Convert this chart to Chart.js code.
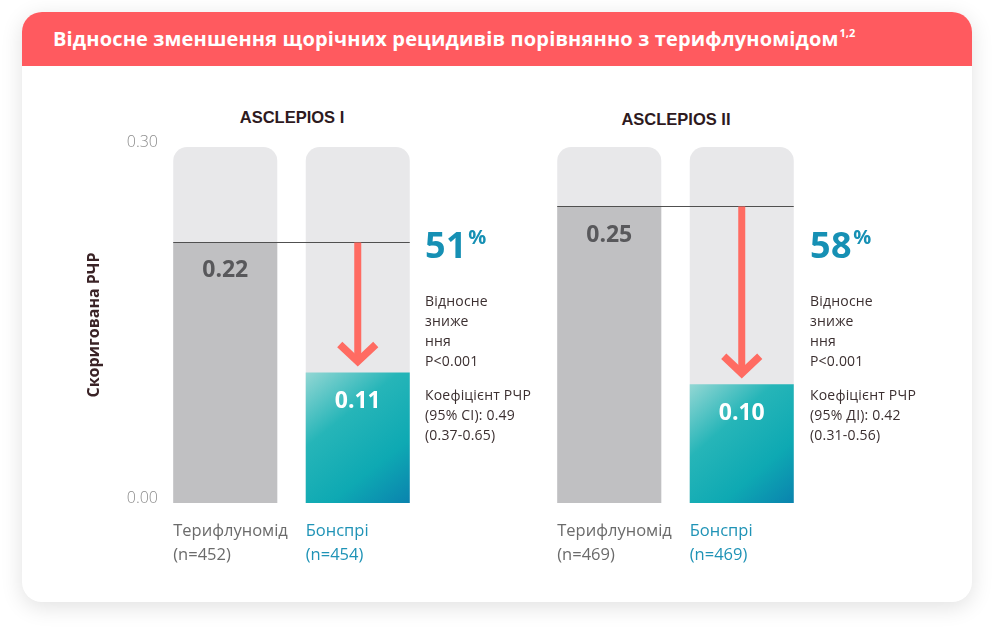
<!DOCTYPE html>
<html>
<head>
<meta charset="utf-8">
<script src="https://cdn.jsdelivr.net/npm/chart.js@4.4.1/dist/chart.umd.min.js"></script>
<style>
  html, body { margin:0; padding:0; background:#ffffff; width:994px; height:635px; overflow:hidden; font-family:'Open Sans', 'Noto Sans', sans-serif; }
  #card { position:absolute; left:22px; top:12px; width:950px; height:590px; border-radius:20px; background:#fff; box-shadow:0 5px 22px rgba(0,0,0,0.12); overflow:hidden; }
  #hdr { position:absolute; left:0; top:0; width:950px; height:54px; background:#ff5a5f; }
  #hdr h1 { position:absolute; left:31px; top:0; margin:0; line-height:54px; font-size:20px; font-weight:700; color:#fff; letter-spacing:0.15px; white-space:nowrap; }
  #hdr h1 sup { font-size:11px; vertical-align:top; position:relative; top:-6px; letter-spacing:0; margin-left:1px; }
  .grp { position:absolute; width:200px; text-align:center; font-family:'Liberation Sans', Arial, sans-serif; font-size:16.5px; font-weight:700; color:#2e1a1e; line-height:20px; }
  .box { position:absolute; }
  .pct { position:absolute; font-size:36px; font-weight:700; color:#1690b4; line-height:40px; letter-spacing:0.5px; white-space:nowrap; }
  .pct sup { font-size:20px; vertical-align:top; position:relative; top:-8px; margin-left:1px; }
  .note { position:absolute; font-size:14px; color:#3b2f30; line-height:20px; white-space:nowrap; letter-spacing:0.2px; }
  .note p { margin:0; }
  .note p.gap { margin-top:14px; }
</style>
</head>
<body>
<div id="card">
  <div id="hdr"><h1 id="title"></h1></div>
</div>
<div class="grp" id="g1" style="left:192px; top:107px;"></div>
<div class="grp" id="g2" style="left:576px; top:109px;"></div>

<div class="box" style="left:82px; top:127px; width:362px; height:446px;"><canvas id="c1"></canvas></div>
<div class="box" style="left:523px; top:127px; width:305px; height:446px;"><canvas id="c2"></canvas></div>

<div class="pct" id="p1" style="left:425px; top:225px;"></div>
<div class="pct" id="p2" style="left:810px; top:225px;"></div>
<div class="note" id="n1" style="left:425px; top:291px;"></div>
<div class="note" id="n2" style="left:810px; top:291px;"></div>

<script>
// ---- data ----
const chartTitle = 'Відносне зменшення щорічних рецидивів порівнянно з терифлуномідом';
const titleRefs = '1,2';
const groupTitles = ['ASCLEPIOS I', 'ASCLEPIOS II'];
const categories1 = [['Терифлуномід', '(n=452)'], ['Бонспрі', '(n=454)']];
const categories2 = [['Терифлуномід', '(n=469)'], ['Бонспрі', '(n=469)']];
const rates1 = [0.22, 0.11];
const rates2 = [0.25, 0.10];
const scaleMax = 0.30;
const yTicks = [0.00, 0.30];
const yAxisTitle = 'Скоригована РЧР';
const reductions = ['51', '58'];
const notes1 = ['Відносне', 'зниже', 'ння', 'P<0.001', 'Коефіцієнт РЧР', '(95% CI): 0.49', '(0.37-0.65)'];
const notes2 = ['Відносне', 'зниже', 'ння', 'P<0.001', 'Коефіцієнт РЧР', '(95% ДІ): 0.42', '(0.31-0.56)'];

// ---- text ----
document.getElementById('title').innerHTML = chartTitle + '<sup>' + titleRefs + '</sup>';
document.getElementById('g1').textContent = groupTitles[0];
document.getElementById('g2').textContent = groupTitles[1];
document.getElementById('p1').innerHTML = reductions[0] + '<sup>%</sup>';
document.getElementById('p2').innerHTML = reductions[1] + '<sup>%</sup>';
function fillNotes(id, arr) {
  document.getElementById(id).innerHTML = arr.map((t, i) => '<p' + (i === 4 ? ' class="gap"' : '') + '>' + t.replace('<', '&lt;') + '</p>').join('');
}
fillNotes('n1', notes1);
fillNotes('n2', notes2);

// ---- styling helpers ----
const FONT = "'Open Sans', 'Noto Sans', sans-serif";
const BAR_PCT = 0.785;

function tealGradient(ctx) {
  const chart = ctx.chart;
  const area = chart.chartArea;
  if (!area) return '#14aeb4';
  const xs = chart.scales.x, ys = chart.scales.y;
  const x = xs.getPixelForValue(ctx.dataIndex);
  const half = (xs.width / xs.ticks.length) * BAR_PCT / 2;
  const yTop = ys.getPixelForValue(ctx.raw);
  const yBot = ys.getPixelForValue(0);
  const g = chart.ctx.createLinearGradient(x - half, yTop, x + half, yBot);
  g.addColorStop(0, '#93d7d4');
  g.addColorStop(0.35, '#26b5b8');
  g.addColorStop(0.7, '#0ea9b3');
  g.addColorStop(1, '#0a83ae');
  return g;
}

const overlayPlugin = {
  id: 'overlay',
  afterDatasetsDraw(chart) {
    const c = chart.ctx;
    const ys = chart.scales.y;
    const meta = chart.getDatasetMeta(0);
    const rates = chart.data.datasets[0].data;
    const b0 = meta.data[0], b1 = meta.data[1];
    // value labels
    c.save();
    c.font = "700 23px " + FONT;
    c.textAlign = 'center';
    c.textBaseline = 'middle';
    rates.forEach((v, i) => {
      const b = meta.data[i];
      c.fillStyle = i === 0 ? '#58585b' : '#ffffff';
      c.fillText(v.toFixed(2), b.x, ys.getPixelForValue(v) + 29);
    });
    // reference line
    const yRef = Math.round(ys.getPixelForValue(rates[0])) + 0.5;
    c.strokeStyle = '#505050';
    c.lineWidth = 1;
    c.beginPath();
    c.moveTo(b0.x - b0.width / 2, yRef);
    c.lineTo(b1.x + b1.width / 2, yRef);
    c.stroke();
    // arrow
    const tip = ys.getPixelForValue(rates[1]) - 7;
    c.strokeStyle = '#ff6b62';
    c.lineWidth = 7;
    c.lineCap = 'butt';
    c.beginPath();
    c.moveTo(b1.x, yRef);
    c.lineTo(b1.x, tip - 4);
    c.stroke();
    c.lineWidth = 7.5;
    c.lineJoin = 'miter';
    c.beginPath();
    c.moveTo(b1.x - 18, tip - 21);
    c.lineTo(b1.x, tip - 4);
    c.lineTo(b1.x + 18, tip - 21);
    c.stroke();
    c.restore();
  }
};

function makeChart(id, labels, rates, showY, padL, padR) {
  return new Chart(document.getElementById(id), {
    type: 'bar',
    data: {
      labels: labels,
      datasets: [
        {
          data: rates,
          backgroundColor: (ctx) => ctx.dataIndex === 0 ? '#c0c0c2' : tealGradient(ctx),
          borderWidth: 0,
          grouped: false,
          order: 0,
          barPercentage: BAR_PCT,
          categoryPercentage: 1
        },
        {
          data: labels.map(() => scaleMax),
          backgroundColor: '#e8e8ea',
          borderWidth: 0,
          borderRadius: { topLeft: 14, topRight: 14, bottomLeft: 0, bottomRight: 0 },
          borderSkipped: false,
          grouped: false,
          order: 1,
          barPercentage: BAR_PCT,
          categoryPercentage: 1
        }
      ]
    },
    options: {
      responsive: true,
      maintainAspectRatio: false,
      animation: false,
      layout: { padding: { top: 20, bottom: 0, left: padL, right: padR } },
      plugins: { legend: { display: false }, tooltip: { enabled: false } },
      scales: {
        x: {
          grid: { display: false, drawTicks: false },
          border: { display: false },
          ticks: {
            autoSkip: false,
            maxRotation: 0,
            align: 'start',
            labelOffset: -52,
            padding: 17,
            color: (ctx) => ctx.index === 0 ? '#6b6b6b' : '#1f93b6',
            font: { family: FONT, size: 16.5, lineHeight: 1.42 }
          },
          afterFit: (s) => { s.height = 70; }
        },
        y: {
          display: showY,
          min: 0,
          max: scaleMax,
          grid: { display: false, drawTicks: false },
          border: { display: false },
          afterBuildTicks: (s) => { s.ticks = yTicks.map(v => ({ value: v })); },
          afterFit: (s) => { if (showY) s.width = 77; },
          ticks: {
            padding: 1,
            labelOffset: -5,
            color: '#8c8c8c',
            font: { family: FONT, size: 16, weight: 300 },
            callback: (v) => Number(v).toFixed(2)
          },
          title: {
            display: true,
            text: yAxisTitle,
            color: '#3a2326',
            padding: { top: 3, bottom: 4 },
            font: { family: FONT, size: 16, weight: 700 }
          }
        }
      }
    },
    plugins: [overlayPlugin]
  });
}

makeChart('c1', categories1, rates1, true, 0, 20);
makeChart('c2', categories2, rates2, false, 20, 20);
</script>
</body>
</html>
